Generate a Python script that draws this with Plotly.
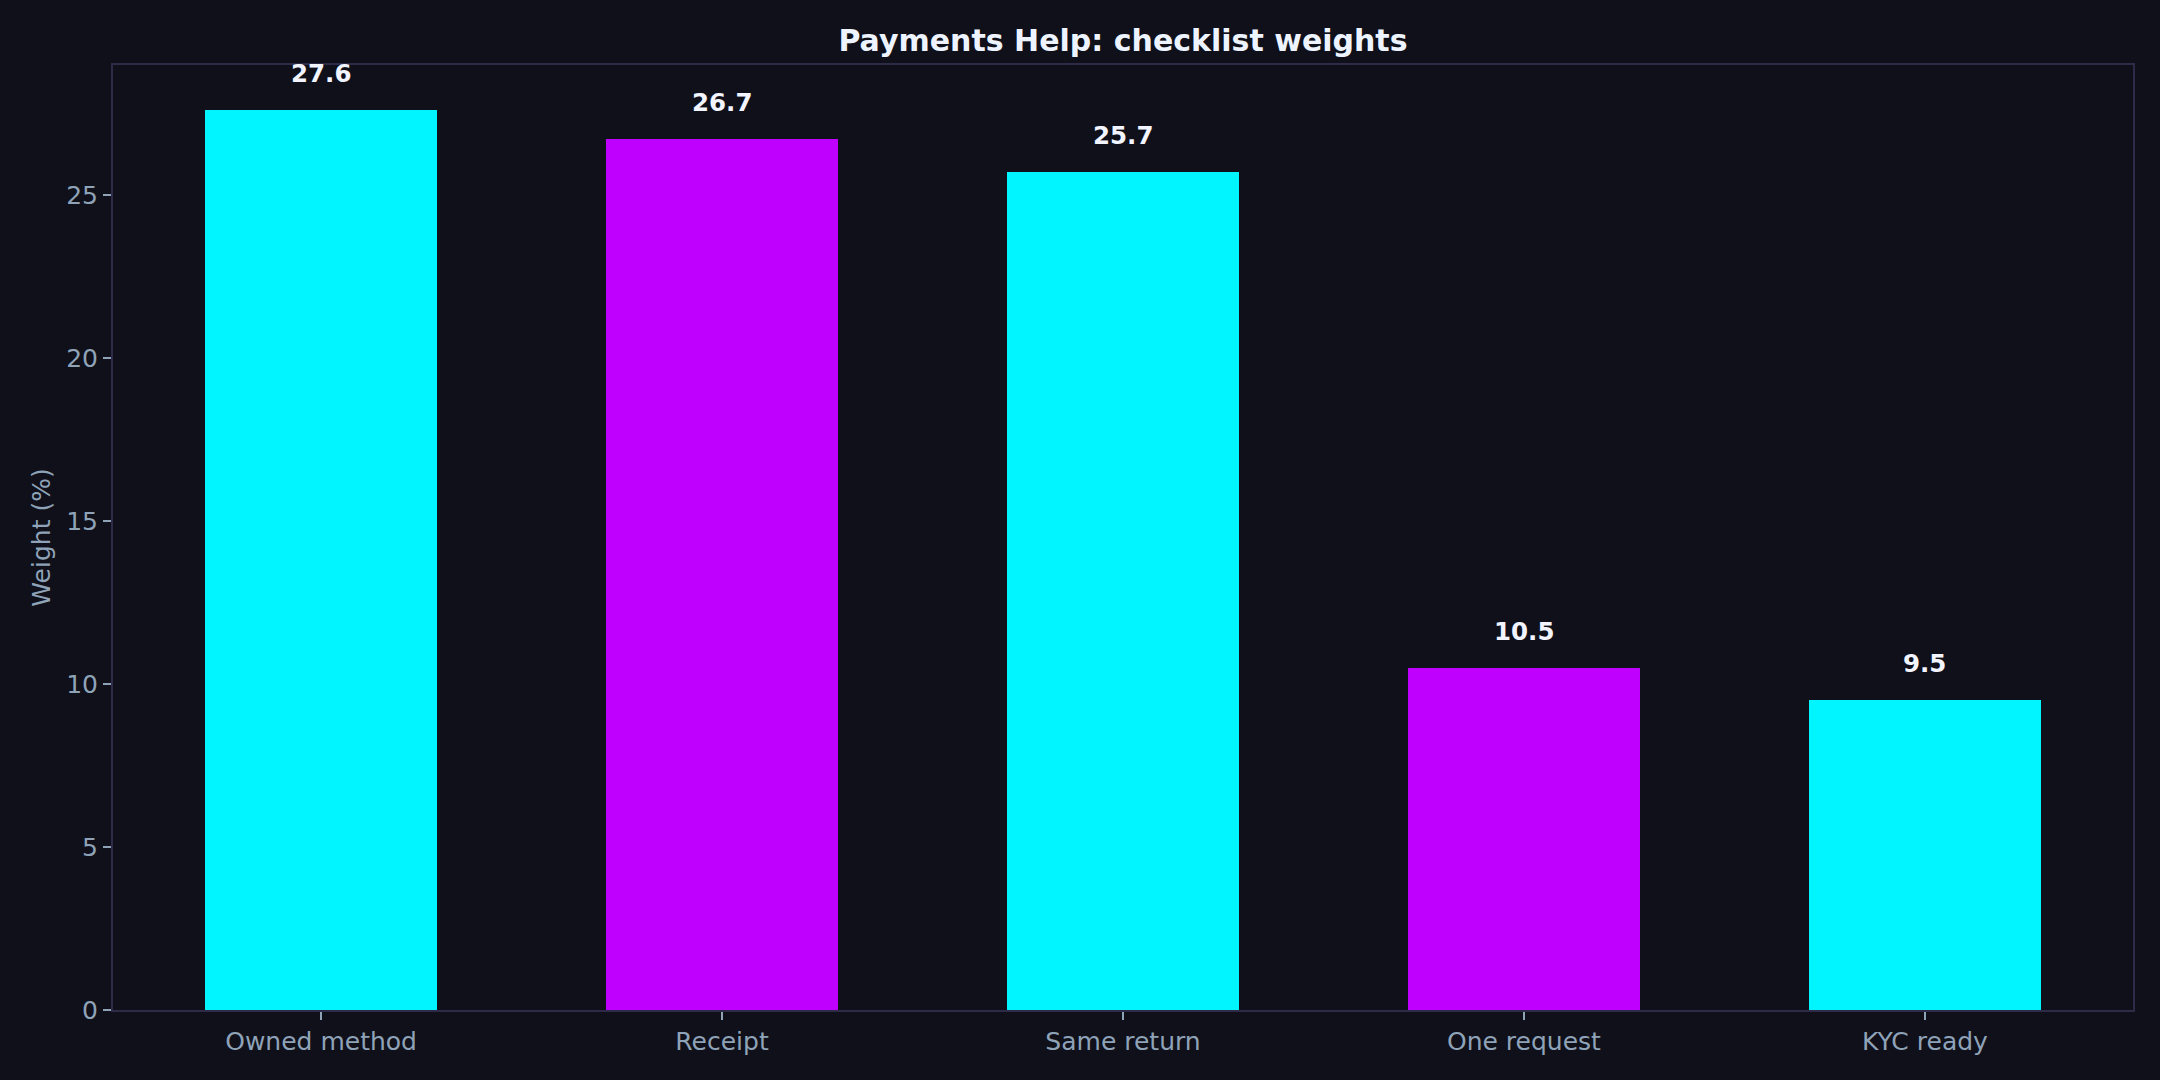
import plotly.graph_objects as go

# checklist items and their weights (%)
categories = ['Owned method', 'Receipt', 'Same return', 'One request', 'KYC ready']
weights = [27.6, 26.7, 25.7, 10.5, 9.5]
bar_colors = ['#00F5FF', '#BF00FF', '#00F5FF', '#BF00FF', '#00F5FF']
y_ticks = [0, 5, 10, 15, 20, 25]

BG = '#0F101A'
SPINE = '#2E2B48'
TICK_TXT = '#8FA3B8'
FONT = 'DejaVu Sans'

fig = go.Figure()
fig.add_trace(go.Bar(
    x=categories,
    y=weights,
    width=0.58,
    marker=dict(color=bar_colors, line=dict(width=0)),
    hoverinfo='x+y',
))

# value labels above each bar
for cat, w in zip(categories, weights):
    fig.add_annotation(
        x=cat, y=w, text='<b>%.1f</b>' % w,
        showarrow=False, yanchor='bottom', yshift=20,
        font=dict(family=FONT, size=24.5, color='#F2F5FF'),
    )

fig.update_layout(
    width=2160, height=1080,
    paper_bgcolor=BG, plot_bgcolor=BG,
    margin=dict(l=113, r=27, t=65, b=70),
    showlegend=False,
    bargap=0,
    title=dict(
        text='<b>Payments Help: checklist weights</b>',
        x=0.5, xref='paper', xanchor='center',
        y=1 - 40 / 1080, yref='container', yanchor='middle',
        font=dict(family=FONT, size=30, color='#EEF4FF'),
    ),
    font=dict(family=FONT, color=TICK_TXT),
)

fig.update_xaxes(
    range=[-0.519, 4.519],
    showgrid=False, zeroline=False,
    showline=True, linecolor=SPINE, linewidth=2, mirror=True,
    ticks='outside', ticklen=8, tickwidth=1.5, tickcolor=TICK_TXT,
    tickfont=dict(family=FONT, size=25, color=TICK_TXT),
)
fig.update_yaxes(
    range=[0, 28.98],
    tickvals=y_ticks,
    showgrid=False, zeroline=False,
    showline=True, linecolor=SPINE, linewidth=2, mirror=True,
    ticks='outside', ticklen=8, tickwidth=1.5, tickcolor=TICK_TXT,
    tickfont=dict(family=FONT, size=25, color=TICK_TXT),
    title=dict(text='Weight (%)', font=dict(family=FONT, size=25, color=TICK_TXT), standoff=8),
)

# drop the browser's default page margin so the figure sits at the corner
fig.write_html(
    "out.html",
    config={'displayModeBar': False},
    post_script="document.body.style.margin='0';document.body.style.background='%s';" % BG,
)
